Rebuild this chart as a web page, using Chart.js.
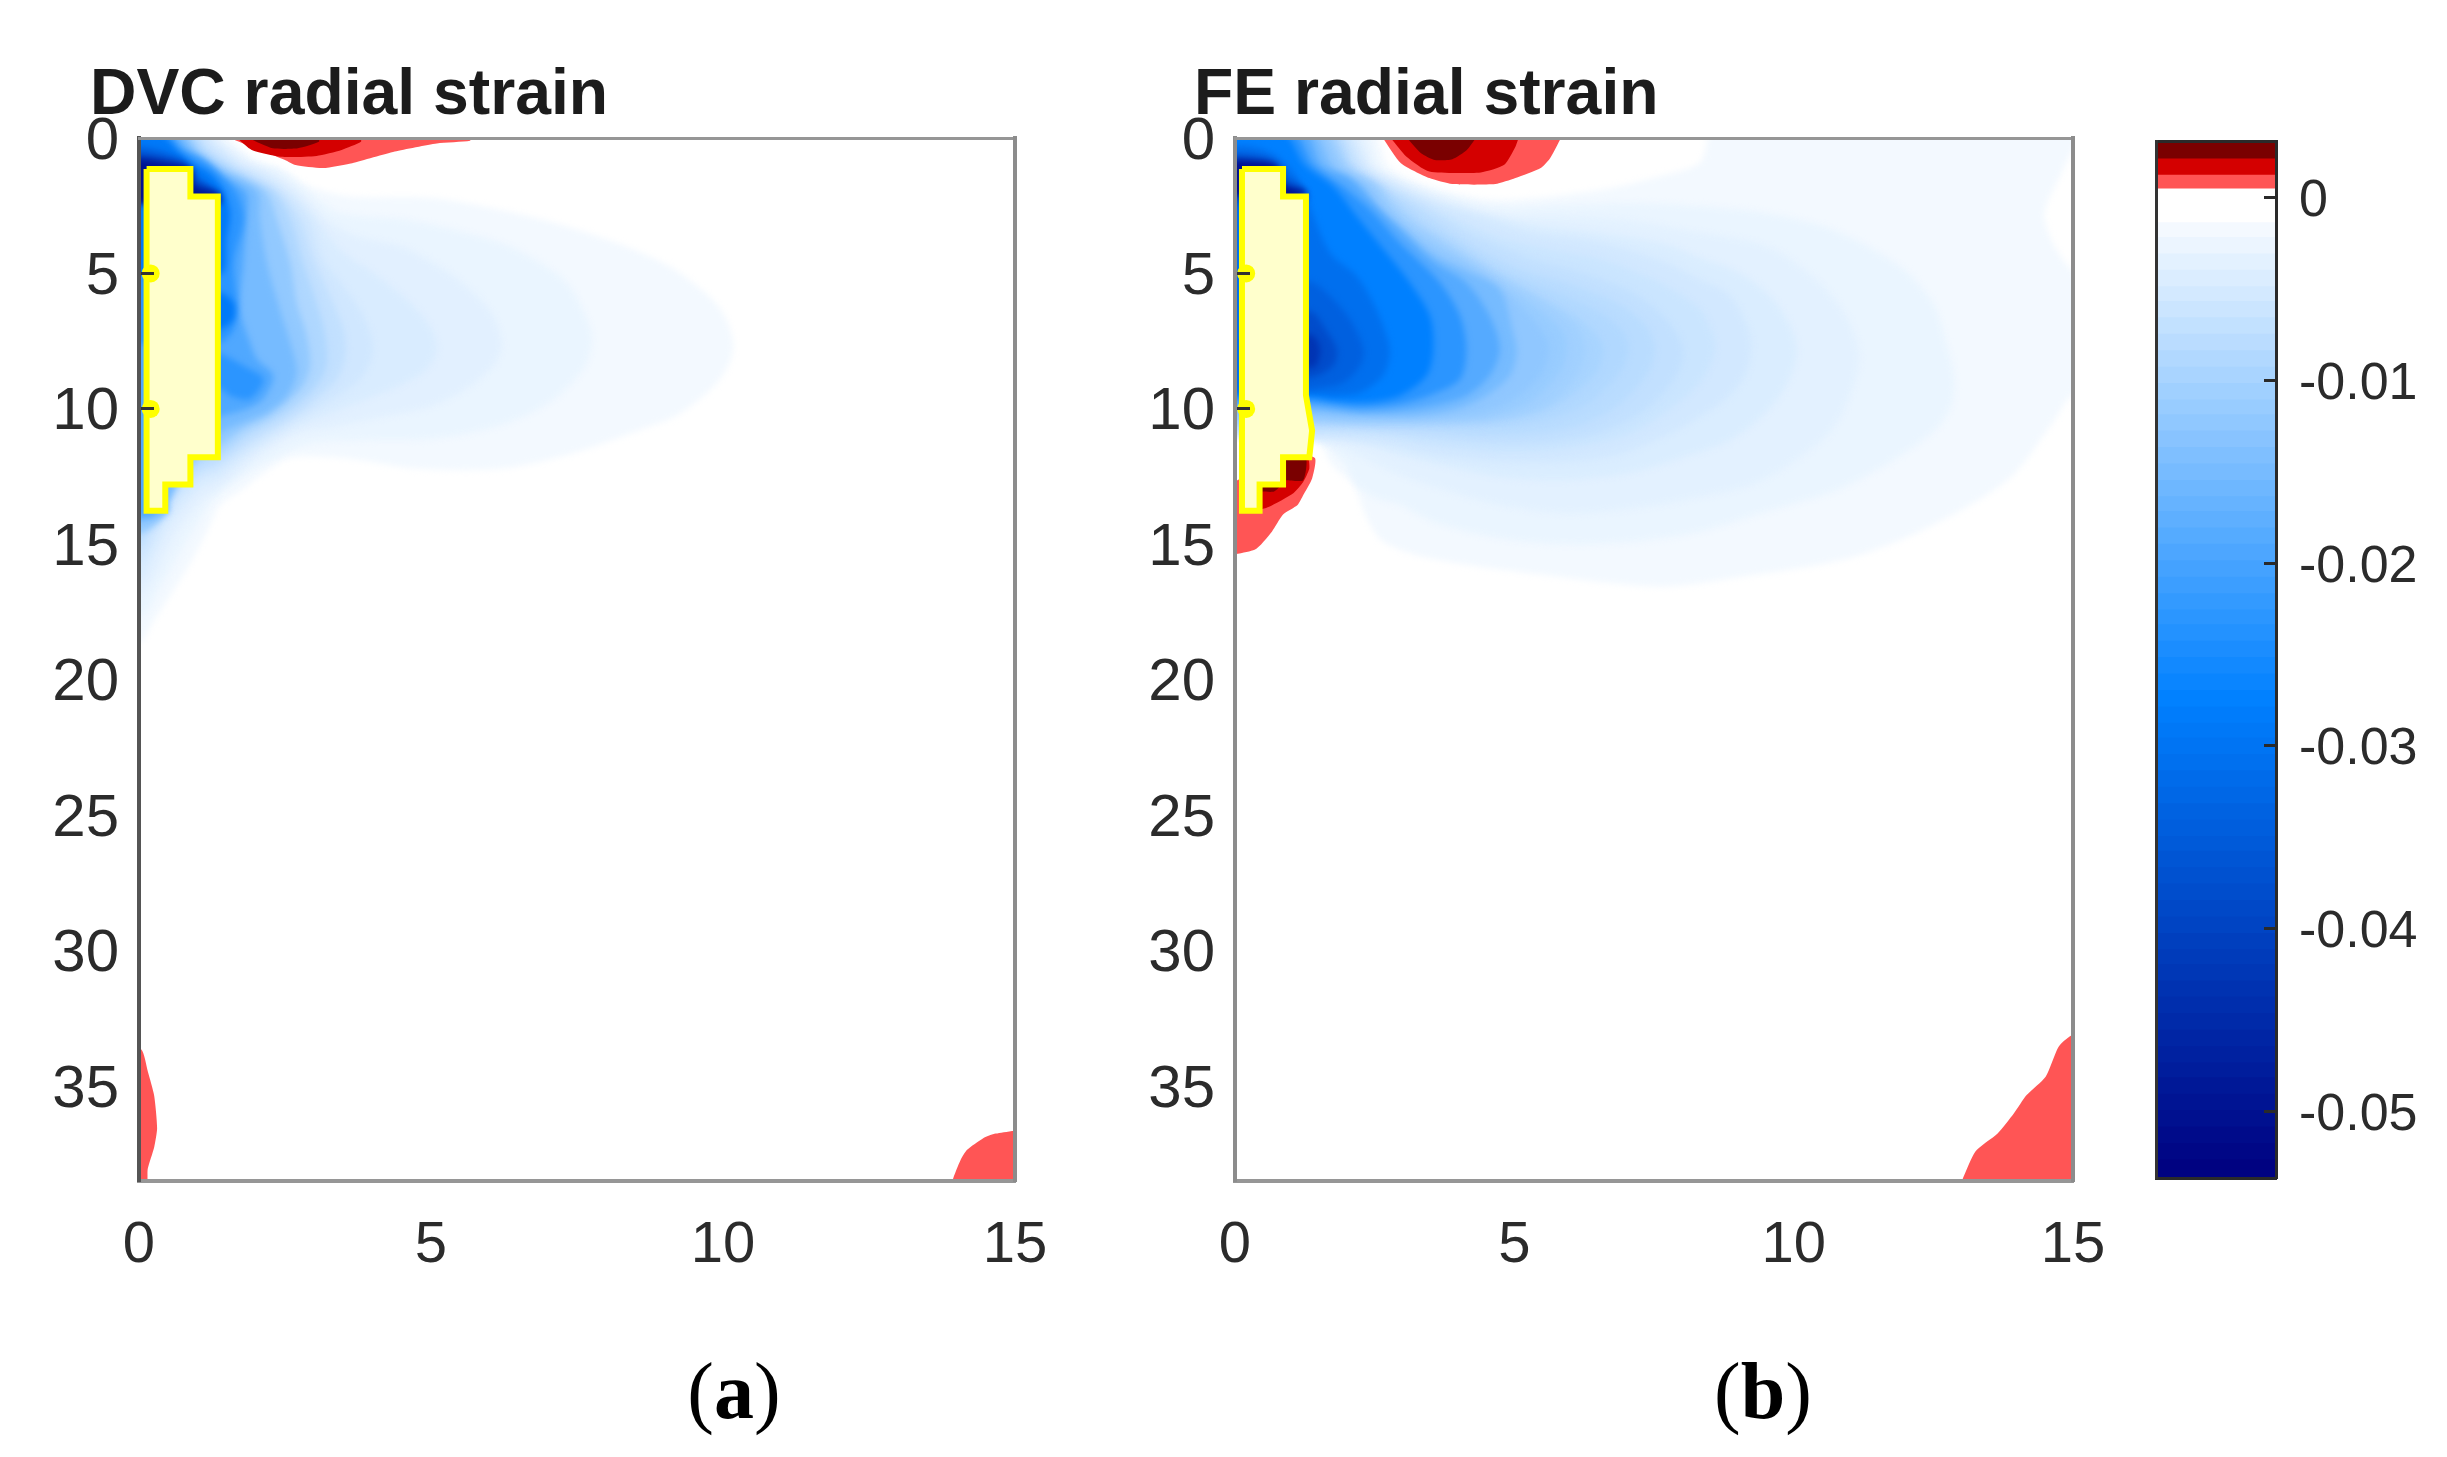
<!DOCTYPE html>
<html>
<head>
<meta charset="utf-8">
<title>radial strain</title>
<script src="https://cdn.jsdelivr.net/npm/chart.js@4"></script>
<style>
  body { margin: 0; background: #fff; width: 2447px; height: 1457px; position: relative; overflow: hidden; }
  canvas { position: absolute; }
  .caption { position: absolute; font-family: "Liberation Serif", serif; font-size: 80px; color: #000; line-height: 90px; transform: translateX(-50%); }
</style>
</head>
<body>
<canvas id="dvc" width="1060" height="1300" style="left:0;top:0"></canvas>
<canvas id="fe" width="1010" height="1300" style="left:1100px;top:0"></canvas>
<canvas id="bar" width="327" height="1300" style="left:2120px;top:0"></canvas>
<div class="caption" style="left:734px;top:1346px">(<b>a</b>)</div>
<div class="caption" style="left:1763px;top:1346px">(<b>b</b>)</div>
<script>
// tick labels
const xTicks = [0, 5, 10, 15];
const yTicks = [0, 5, 10, 15, 20, 25, 30, 35];
const cbTicks = [0, -0.01, -0.02, -0.03, -0.04, -0.05];
const cbTickLabels = ['0', '-0.01', '-0.02', '-0.03', '-0.04', '-0.05'];

// colorbar band edges, top to bottom
const cbEdges = [0.0031, 0.0022, 0.0013, 0.00055, -0.0013, -0.0021, -0.0030, -0.0039, -0.0048, -0.0056, -0.0065, -0.0074,
  -0.0083, -0.0092, -0.0101, -0.0110, -0.0118, -0.0127, -0.0136, -0.0145, -0.0154, -0.0163, -0.0171, -0.0180, -0.0189,
  -0.0198, -0.0207, -0.0216, -0.0225, -0.0233, -0.0242, -0.0251, -0.0260, -0.0269, -0.0278, -0.0287, -0.0295, -0.0304,
  -0.0313, -0.0322, -0.0331, -0.0340, -0.0349, -0.0357, -0.0366, -0.0375, -0.0384, -0.0393, -0.0402, -0.0411, -0.0419,
  -0.0428, -0.0437, -0.0446, -0.0455, -0.0464, -0.0473, -0.0481, -0.0490, -0.0499, -0.0508, -0.0517, -0.0526, -0.0537];

// DVC strain contours, [x, y] outline for each level
const dvcLevels = [-0.0018, -0.0027, -0.0036, -0.0045, -0.0055, -0.007, -0.009, -0.012, -0.015, -0.019, -0.023, -0.023, -0.029, -0.029, -0.034, -0.042, -0.05];
const dvc01 = [[-.5,-.5],[1.35,-.2],[1.56,.07],[2,.81],[2.47,1.18],[2.93,1.79],[3.61,2.16],[5.04,2.22],[6.18,2.65],[7.32,3.26],[8.47,4.12],[9.26,4.98],[9.95,6.3],[10.18,7.67],[9.95,8.9],[9.26,10.18],[8.47,10.86],[7.32,11.71],[6.18,12.21],[4.76,12.21],[3.61,11.84],[2.64,11.78],[2.24,12.21],[1.79,12.94],[1.39,13.55],[1.19,14.41],[.85,15.8],[.5,17],[.2,18],[.03,18.6],[-.5,18.8]];
const dvc02 = [[-.5,-.5],[1.25,-.2],[1.45,.1],[1.9,.81],[2.41,1.18],[2.93,2.03],[3.44,2.77],[4.58,3.01],[5.61,3.5],[6.47,4.12],[7.32,5.34],[7.72,6.94],[7.75,7.67],[7.61,8.53],[7.04,9.75],[6.18,10.61],[5.04,11.1],[3.9,11.16],[2.93,11.29],[2.3,11.84],[1.79,12.45],[1.33,13.19],[1.05,14.04],[.7,15.3],[.35,16.6],[.05,17.6],[-.5,17.8]];
const dvc03 = [[-.5,-.5],[1.15,-.2],[1.4,.2],[1.85,.9],[2.3,1.3],[2.76,2.03],[3.21,3.01],[3.73,3.63],[4.47,3.99],[5.04,4.61],[5.61,5.47],[6.07,6.57],[6.21,7.67],[6.07,8.41],[5.61,9.26],[5.04,9.88],[4.18,10.3],[3.33,10.67],[2.64,10.98],[2.07,11.71],[1.45,12.82],[1.05,13.43],[.6,14.7],[.3,16],[.05,16.8],[-.5,17]];
const dvc04 = [[-.5,-.5],[1.08,-.2],[1.33,.25],[1.75,.95],[2.2,1.35],[2.64,2.03],[3.04,3.01],[3.44,4.12],[4.01,4.98],[4.58,5.95],[4.98,6.94],[5.1,7.79],[4.93,8.53],[4.47,9.14],[3.9,9.63],[3.33,10.12],[2.64,10.73],[1.96,11.59],[1.39,12.57],[1.05,12.94],[.55,14.2],[.25,15.4],[.05,16.2],[-.5,16.4]];
const dvc05 = [[-.5,-.5],[1,-.2],[1.3,.3],[1.7,1],[2.1,1.4],[2.53,2.03],[2.93,3.01],[3.16,4.48],[3.5,5.47],[3.84,6.57],[4.01,7.79],[3.84,8.77],[3.5,9.39],[3.04,10],[2.53,10.61],[1.9,11.47],[1.33,12.33],[1.05,12.57],[.5,13.9],[.22,15],[.05,15.6],[-.5,15.8]];
const dvc06 = [[-.5,-.5],[.92,-.2],[1.2,.4],[1.62,1.05],[2,1.45],[2.41,2.03],[2.76,3.01],[2.99,4.48],[3.27,5.83],[3.5,7.06],[3.53,8.04],[3.39,8.9],[3.04,9.63],[2.64,10.3],[1.9,11.23],[1.33,12.08],[1.05,12.33],[.48,13.5],[.2,14.5],[.05,15.1],[-.5,15.2]];
const dvc07 = [[-.5,-.5],[.85,-.2],[1.15,.5],[1.56,1.1],[1.9,1.5],[2.33,2.03],[2.59,3.01],[2.81,4.61],[3.04,6.08],[3.19,7.3],[3.21,8.41],[3.04,9.14],[2.76,9.75],[2.41,10.3],[1.84,10.98],[1.39,11.71],[1.05,12],[.48,13.2],[.15,14.1],[.05,14.6],[-.5,14.7]];
const dvc08 = [[-.5,-.5],[.75,-.2],[1.05,.55],[1.5,1.2],[1.85,1.55],[2.19,2.03],[2.36,3.01],[2.59,4.61],[2.7,6.08],[2.87,7.3],[2.93,8.41],[2.81,9.14],[2.53,9.75],[2.19,10.3],[1.79,10.73],[1.39,11.35],[1.05,11.7],[.48,13],[.48,13.8],[.12,14.5],[-.5,14.6]];
const dvc09 = [[-.5,-.5],[.66,-.2],[.98,.6],[1.42,1.25],[1.75,1.6],[2.04,2.03],[2.07,3.01],[2.19,4.61],[2.41,6.32],[2.59,7.55],[2.7,8.65],[2.53,9.51],[2.19,10.12],[1.79,10.49],[1.39,10.86],[1,11.5],[.5,13.5],[.5,13.8],[.1,14.1],[-.5,14.2]];
const dvc10 = [[-.5,-.5],[.55,-.2],[.82,.45],[1.13,.81],[1.44,1.42],[1.84,2.03],[1.84,3.01],[1.79,4.61],[1.73,6.32],[1.9,7.55],[2.02,8.16],[2.3,8.77],[2.13,9.63],[1.84,10],[1.45,10.24],[.5,11],[.3,13.8],[.1,14],[-.5,14]];
const dvc11 = [[-.5,-.5],[.45,-.2],[.7,.4],[1,.75],[1.35,1.3],[1.67,2.03],[1.79,3.01],[1.62,4.61],[1.67,6.08],[1.62,7.06],[1.39,7.55],[.5,7.6],[-.5,7.6]];
const dvc12 = [[1.39,7.95],[1.79,8.41],[2.13,8.9],[1.9,9.63],[1.56,9.51],[1.39,9.26],[1,9.2],[1,8]];
const dvc13 = [[-.5,-.5],[.35,-.2],[.7,.56],[.93,.93],[1.22,1.3],[1.44,1.91],[1.56,2.77],[1.5,3.75],[1.42,5],[.5,5],[-.5,5]];
const dvc14 = [[1,5.7],[1.39,5.7],[1.62,6.08],[1.62,6.69],[1.39,7.06],[1,7.1]];
const dvc15 = [[-.5,.3],[.05,.32],[.42,.5],[.76,.81],[.93,1.24],[1.16,1.67],[1.36,2.04],[1.4,2.4],[.5,2.5],[-.5,2.2]];
const dvc16 = [[-.5,.6],[.05,.63],[.42,.75],[.8,1],[.93,1.54],[1.22,1.85],[1.36,2.04],[1.36,2.4],[.5,2.5],[-.5,2.2]];
const dvc17 = [[-.5,.78],[.05,.81],[.42,.93],[.9,1.15],[.93,1.79],[1.22,2],[1.36,2.1],[1.36,2.4],[.5,2.5],[-.5,2.2]];

// FE strain contours, near the block the deep levels split into corner and blob
const feLevels = [-0.0018, -0.0027, -0.0035, -0.0044, -0.0053, -0.0061, -0.007, -0.0079, -0.0088, -0.0097, -0.0105, -0.0114, -0.0123, -0.015, -0.0185, -0.023, -0.0275, -0.031, -0.036, -0.034, -0.05, -0.038, -0.043];
const fe01 = [[-.5,-.5],[2.45,-.2],[2.76,1.05],[3.48,1.79],[4.71,2.28],[6.56,1.91],[7.59,1.42],[8.31,.93],[8.46,.07],[8.5,-.5],[15.5,-.5],[15.2,-.2],[15.03,.3],[14.82,1.18],[14.49,2.77],[14.64,3.87],[14.97,4.85],[15.5,5.5],[15.5,9],[14.97,9.51],[14.64,10.49],[13.86,12.57],[12.49,14.29],[11,15.5],[8.9,16.25],[7.59,16.56],[5.53,16.13],[3.48,15.51],[2.65,14.9],[2.36,14.04],[2.12,12.82],[1.74,12.08],[1.43,11.1],[.5,11],[-.5,11]];
const fe02 = [[-.5,-.5],[2.3,-.2],[2.6,1.1],[3.07,1.6],[3.85,2.16],[4.74,2.52],[5.93,2.46],[7.13,2.4],[8.32,2.52],[9.51,2.77],[10.7,3.38],[11.9,4.73],[12.49,6.08],[12.73,7.55],[12.88,8.9],[12.82,9.88],[12.49,10.86],[11.54,12.2],[10.7,13.06],[9.51,13.8],[8.32,14.54],[7.13,14.9],[5.93,15],[4.74,14.78],[3.55,14.17],[2.95,13.55],[2.53,13.3],[2.18,12.82],[1.94,11.96],[1.5,11.2],[.5,11],[-.5,11]];
const fe03 = [[-.5,-.5],[2.17,-.2],[2.5,1.1],[3,1.67],[3.67,2.2],[4.74,2.83],[5.93,2.89],[7.13,3.07],[8.32,3.5],[9.51,3.99],[10.4,5.22],[10.94,6.57],[11.17,7.92],[11.09,9.02],[10.7,10.73],[9.99,11.96],[9.21,12.82],[8.32,13.25],[7.13,13.68],[5.93,13.86],[4.74,13.55],[3.85,13.06],[2.95,12.45],[2.18,11.71],[1.76,11.35],[1.45,11.2],[.5,11],[-.5,11]];
const fe04 = [[-.5,-.5],[2.06,-.2],[2.42,1.1],[2.95,1.73],[3.55,2.28],[4.26,2.71],[5.34,3.2],[6.53,3.5],[7.72,3.93],[8.32,4.42],[9.03,4.98],[9.63,5.95],[9.99,7.18],[10.05,8.04],[9.87,9.14],[9.51,10.12],[8.91,11.1],[8.32,11.59],[7.13,12.33],[5.93,12.63],[4.74,12.51],[3.85,12.15],[2.95,11.71],[2.36,11.35],[1.94,11.2],[1.45,11.1],[.5,11],[-.5,11]];
const fe05 = [[-.5,-.5],[1.96,-.2],[2.35,1.1],[2.89,1.79],[3.43,2.28],[4.14,2.77],[5.34,3.5],[6.53,3.87],[7.72,4.61],[8.32,5.22],[8.8,5.71],[9.09,6.57],[9.24,7.55],[9.15,8.65],[8.85,9.51],[8.32,10.3],[7.72,10.98],[6.83,11.71],[5.93,11.96],[4.74,11.96],[3.55,11.71],[2.65,11.3],[1.4,11],[.5,10.9],[-.5,10.9]];
const fe06 = [[-.5,-.5],[1.88,-.2],[2.28,1.1],[2.77,1.79],[3.25,2.28],[3.85,2.89],[4.68,3.63],[5.64,4.12],[6.53,4.48],[7.6,5.34],[8.32,6.32],[8.56,7.3],[8.59,7.79],[8.5,8.4],[8.32,9.02],[8.02,9.63],[7.13,10.86],[5.93,11.47],[4.74,11.59],[3.55,11.35],[2.65,11.04],[1.4,10.9],[.5,10.9],[-.5,10.9]];
const fe07 = [[-.5,-.5],[1.82,-.2],[2.2,1.1],[2.68,1.79],[3.13,2.28],[3.67,2.89],[4.32,3.63],[5.34,4.48],[6.23,4.98],[7.13,5.71],[7.72,6.69],[8.02,7.79],[7.9,8.77],[7.36,10],[6.53,10.86],[5.64,11.23],[4.74,11.29],[3.55,11.1],[2.53,10.86],[1.4,10.8],[.5,10.8],[-.5,10.8]];
const fe08 = [[-.5,-.5],[1.76,-.2],[2.13,1.1],[2.62,1.79],[3.01,2.28],[3.55,3.01],[3.97,3.63],[4.98,4.73],[5.93,5.34],[6.83,6.08],[7.36,6.94],[7.51,7.79],[7.36,8.77],[6.77,10],[5.93,10.73],[4.74,10.98],[3.55,10.86],[2.65,10.73],[1.4,10.67],[.5,10.7],[-.5,10.7]];
const fe09 = [[-.5,-.5],[1.7,-.2],[2.08,1.1],[2.58,1.79],[2.95,2.4],[3.43,3.2],[3.79,3.63],[4.74,4.85],[5.64,5.59],[6.53,6.45],[6.95,7.18],[7.04,7.79],[6.89,8.65],[6.35,9.75],[5.64,10.37],[4.74,10.67],[3.55,10.67],[2.65,10.64],[1.4,10.55],[.5,10.6],[-.5,10.6]];
const fe10 = [[-.5,-.5],[1.65,-.2],[2.04,1.1],[2.55,1.79],[2.89,2.46],[3.31,3.26],[3.67,3.69],[4.56,4.85],[5.34,5.77],[6.17,6.69],[6.53,7.43],[6.59,7.85],[6.47,8.65],[5.93,9.63],[5.34,10.18],[4.62,10.43],[3.55,10.55],[2.65,10.55],[1.4,10.49],[.5,10.5],[-.5,10.5]];
const fe11 = [[-.5,-.5],[1.6,-.2],[2,1.1],[2.52,1.79],[2.83,2.52],[3.19,3.14],[3.55,3.63],[4.14,4.4],[4.74,5.1],[5.58,6.08],[6.11,6.94],[6.26,7.79],[6.11,8.77],[5.58,9.88],[4.74,10.37],[3.85,10.49],[2.95,10.49],[2.24,10.49],[1.4,10.43],[.5,10.45],[-.5,10.45]];
const fe12 = [[-.5,-.5],[1.55,-.2],[1.95,1.1],[2.49,1.79],[2.77,2.52],[3.13,3.26],[3.55,3.8],[4.14,4.55],[4.74,5.34],[5.46,6.32],[5.87,7.18],[5.93,7.85],[5.81,8.65],[5.28,9.75],[4.62,10.24],[3.85,10.39],[2.95,10.43],[2.12,10.43],[1.4,10.37],[.5,10.4],[-.5,10.4]];
const fe13 = [[-.5,-.5],[1.5,-.2],[1.9,1.1],[2.43,1.79],[2.71,2.52],[3.07,3.32],[3.55,3.99],[4.14,4.67],[4.74,5.5],[5.28,6.57],[5.58,7.43],[5.61,7.92],[5.46,8.77],[4.98,9.63],[4.38,10.12],[3.67,10.3],[2.95,10.37],[2.06,10.37],[1.4,10.3],[.5,10.3],[-.5,10.3]];
const fe14 = [[-.5,-.5],[1.38,-.2],[1.76,1.1],[2.3,1.79],[2.59,2.65],[2.95,3.26],[3.55,4.3],[4.14,4.9],[4.74,5.59],[4.98,7.18],[5.04,7.92],[4.92,8.77],[4.5,9.51],[3.97,10],[3.25,10.24],[2.48,10.24],[1.4,10.12],[.5,10.1],[-.5,10.1]];
const fe15 = [[-.5,-.5],[1.25,-.2],[1.55,1],[2.06,1.5],[2.42,2.28],[2.95,3.38],[3.55,4.55],[4.14,5.34],[4.56,6.57],[4.74,7.79],[4.56,8.77],[4.14,9.51],[3.55,9.88],[2.95,10.06],[2.24,10.12],[1.4,9.94],[.5,9.9],[-.5,9.9]];
const fe16 = [[-.5,-.5],[1.05,-.2],[1.4,1],[1.94,1.8],[2.42,2.65],[2.95,3.87],[3.67,5.34],[4.03,6.57],[4.14,7.79],[4.03,8.9],[3.55,9.45],[2.95,9.82],[2.24,9.94],[1.4,9.75],[.5,9.7],[-.5,9.7]];
const fe17 = [[-.5,-.5],[.86,-.2],[1.25,1],[1.76,1.79],[2.18,2.89],[2.71,4.24],[3.13,5.34],[3.49,6.57],[3.55,7.79],[3.43,8.77],[2.95,9.51],[2.36,9.75],[1.76,9.69],[1.4,9.57],[.5,9.5],[-.5,9.5]];
const fe18 = [[-.5,.25],[.3,.3],[.7,.6],[.98,1.1],[1.15,1.6],[1.3,2.3],[1.7,4.24],[2.18,5.1],[2.53,6.32],[2.77,7.79],[2.65,8.77],[2.24,9.39],[1.76,9.51],[1.4,9.45],[.5,9.4],[-.5,9.4]];
const fe19 = [[-.5,.55],[.3,.6],[.7,.85],[.92,1.4],[1.2,1.8],[1.3,2.3],[.5,2.5],[-.5,2.4]];
const fe20 = [[1,5.2],[1.4,5.35],[1.7,5.83],[2.06,6.7],[2.3,7.79],[2.24,8.4],[1.94,9.02],[1.4,9.27],[1,9.3]];
const fe21 = [[-.5,.78],[.3,.82],[.75,1],[.88,1.7],[1.28,2],[.9,2.3],[-.5,2]];
const fe22 = [[1,6.3],[1.4,6.45],[1.58,6.94],[1.82,7.79],[1.76,8.4],[1.4,8.83],[1,8.85]];
const fe23 = [[1,7.2],[1.4,7.3],[1.52,7.79],[1.48,8.28],[1.4,8.47],[1,8.45]];

// positive strain patches: light, mid, dark
const dvcPosLight = [[[1.53,-.02],[2.5,.81],[2.68,1],[3.15,1.11],[3.65,.93],[4.38,.5],[5.1,.2],[5.67,.1],[5.67,-.02]],
  [[-.3,33.65],[.04,33.65],[.15,34.45],[.26,35.35],[.31,36.55],[.26,37.25],[.15,38.05],[.12,38.8],[-.3,38.8]],
  [[13.93,38.8],[13.93,38.49],[14.07,37.72],[14.18,37.35],[14.45,36.93],[14.67,36.75],[15.3,36.68],[15.3,38.8]]];
const dvcPosMid = [[[1.67,-.02],[1.93,.44],[2.43,.69],[3.04,.66],[3.47,.44],[3.8,.14],[3.8,-.02]]];
const dvcPosDark = [[[1.85,-.02],[2.29,.38],[2.72,.38],[3.08,.14],[3.08,-.02]]];
const fePosLight = [[[2.64,-.02],[2.97,.93],[3.48,1.48],[3.89,1.7],[4.66,1.7],[5.02,1.48],[5.48,1.1],[5.64,.75],[5.84,-.02]],
  [[1,11.6],[1.43,11.81],[1.38,12.57],[1.22,13.19],[1.12,13.55],[.86,13.9],[.66,14.53],[.35,15.2],[-.3,15.33],[-.3,13]],
  [[12.95,38.8],[13.25,37.42],[13.65,36.75],[13.94,36.01],[14.17,35.33],[14.51,34.65],[14.74,33.55],[14.97,33.13],[15.3,33.05],[15.3,38.8]]];
const fePosMid = [[[2.78,-.02],[3.07,.69],[3.48,1.24],[4.4,1.27],[4.82,.99],[5.02,.32],[5.08,-.02]],
  [[.9,11.8],[1.3,11.8],[1.33,12.2],[1.22,12.7],[1.05,13.1],[.6,13.62],[.4,13.7],[.4,12.8],[.9,12.8]]];
const fePosDark = [[[3.07,-.02],[3.33,.56],[3.58,.81],[3.89,.78],[4.15,.44],[4.32,-.02]],
  [[.91,11.84],[1.27,11.84],[1.22,12.63],[.91,12.63]],
  [[.48,12.8],[.82,12.8],[.7,13.05],[.48,13.05]]];

// excluded block outlines
const dvcBox = [[.13,1.14],[.88,1.14],[.88,2.16],[1.35,2.16],[1.35,11.78],[.88,11.78],[.88,12.79],[.45,12.79],[.45,13.76],[.13,13.76],[.13,1.14]];
const feBox = [[.125,1.14],[.86,1.14],[.86,2.16],[1.27,2.16],[1.27,9.5],[1.38,10.8],[1.33,11.78],[.86,11.78],[.86,12.79],[.44,12.79],[.44,13.76],[.125,13.76],[.125,1.14]];
const boxBumps = [[.2,5],[.2,10]];

const dvcShapes = [dvc01, dvc02, dvc03, dvc04, dvc05, dvc06, dvc07, dvc08, dvc09, dvc10, dvc11, dvc12, dvc13, dvc14, dvc15, dvc16, dvc17];
const feShapes = [fe01, fe02, fe03, fe04, fe05, fe06, fe07, fe08, fe09, fe10, fe11, fe12, fe13, fe14, fe15, fe16, fe17, fe18, fe19, fe20, fe21, fe22, fe23];

const TEXT = '#2b2b2b';
const SANS = '"Liberation Sans", Arial, sans-serif';
const Y_MAX = 38.5;

// blue side of the colormap
function colorFor(v) {
  const mix = (a, b, t) => Math.round(a + (b - a) * t);
  let c;
  if (v > -0.0275) {
    const t = Math.max(0, (-0.0005 - v) / 0.027);
    c = [mix(255, 0, t), mix(255, 128, t), 255];
  } else {
    const t = Math.min(1, (-0.0275 - v) / 0.026);
    c = [0, mix(128, 0, t), mix(255, 127, t)];
  }
  return `rgb(${c[0]},${c[1]},${c[2]})`;
}

function shapeSet(data, color, soft) {
  return { data: data, showLine: true, fill: 'shape', backgroundColor: color, borderWidth: 0, pointRadius: 0, tension: soft ? 0.3 : 0.2, soft: soft };
}

// chart draws dataset 0 on top, so build bottom-up and flip
function plotDatasets(shapes, levels, light, mid, dark, box) {
  const sets = shapes.map((s, i) => shapeSet(s, colorFor(levels[i]), true));
  light.forEach(s => sets.push(shapeSet(s, '#ff5555', false)));
  mid.forEach(s => sets.push(shapeSet(s, '#d40000', false)));
  dark.forEach(s => sets.push(shapeSet(s, '#7a0000', false)));
  sets.push({ data: box, showLine: true, fill: 'shape', backgroundColor: '#ffffcc', borderColor: '#ffff00', borderWidth: 6, borderJoinStyle: 'miter', pointRadius: 0, tension: 0.001 });
  sets.push({ data: boxBumps, showLine: false, pointRadius: 9, pointBackgroundColor: '#ffff00', pointBorderWidth: 0 });
  return sets.reverse();
}

// blur only the blue contours
const softBlue = {
  id: 'softBlue',
  beforeDatasetsDraw(chart) { chart.ctx.filter = 'blur(3px)'; },
  afterDatasetDraw(chart, args) {
    const next = chart.data.datasets[args.index - 1];
    if (!next || !next.soft) chart.ctx.filter = 'none';
  },
  afterDatasetsDraw(chart) { chart.ctx.filter = 'none'; }
};

// y labels sit a bit below their tick in the reference
function labelDrop(dy) {
  return {
    id: 'labelDrop',
    beforeDraw(chart) {
      const items = chart.scales.y.getLabelItems(chart.chartArea);
      items.forEach(it => {
        if (!it.dropped) { it.options.translation[1] += dy; it.dropped = true; }
      });
    }
  };
}

// title starts right of the y labels
function titleAt(x) {
  return { id: 'titleAt', afterLayout(chart) { chart.titleBlock.left = x; } };
}

function hiddenAxis(position, size, color, width, extra) {
  return Object.assign({
    position: position, display: true,
    ticks: { display: false },
    grid: { display: false, drawTicks: false },
    border: { display: true, color: color, width: width, z: 1 },
    afterFit(s) {
      if (position === 'top' || position === 'bottom') { s.height = size; s.paddingLeft = 0; s.paddingRight = 0; } else { s.width = size; s.paddingTop = 0; s.paddingBottom = 0; }
    }
  }, extra);
}

function makePlot(id, title, sets, titleX, padLeft, padRight, yWidth, leftColor) {
  new Chart(document.getElementById(id), {
    type: 'scatter',
    data: { datasets: sets },
    plugins: [softBlue, labelDrop(4), titleAt(titleX)],
    options: {
      responsive: false,
      animation: false,
      layout: { padding: { left: padLeft, right: padRight, top: 0, bottom: 0 } },
      plugins: {
        legend: { display: false },
        tooltip: { enabled: false },
        title: {
          display: true, text: title, align: 'start', color: '#1c1c1c',
          font: { family: SANS, size: 64.3, weight: 'bold', lineHeight: 1 },
          padding: { top: 64, bottom: 9.7 }
        }
      },
      scales: {
        x: {
          type: 'linear', position: 'bottom', min: 0, max: 15,
          ticks: { stepSize: 5, color: TEXT, font: { family: SANS, size: 58 }, padding: 30, maxRotation: 0, autoSkip: false, includeBounds: false },
          grid: { drawOnChartArea: false, drawTicks: false },
          border: { color: '#969696', width: 4, z: 1 },
          afterBuildTicks(s) { s.ticks = xTicks.map(v => ({ value: v })); },
          afterFit(s) { s.height = 119; s.paddingLeft = 0; s.paddingRight = 0; }
        },
        y: {
          type: 'linear', position: 'left', reverse: true, min: 0, max: Y_MAX,
          ticks: { stepSize: 5, color: TEXT, font: { family: SANS, size: 60 }, padding: 35, autoSkip: false, includeBounds: false },
          grid: {
            drawOnChartArea: false, tickLength: -15, tickWidth: 3, z: 1,
            tickColor: c => (c.tick && (c.tick.value === 5 || c.tick.value === 10)) ? '#333333' : 'rgba(0,0,0,0)'
          },
          border: { color: leftColor, width: 4, z: 1 },
          afterBuildTicks(s) { s.ticks = yTicks.map(v => ({ value: v })); },
          afterFit(s) { s.width = yWidth; s.paddingTop = 0; s.paddingBottom = 0; }
        },
        xTop: hiddenAxis('top', 0, '#969696', 3, { type: 'linear', min: 0, max: 15 }),
        yRight: hiddenAxis('right', 0, '#8c8c8c', 4, { type: 'linear', min: 0, max: Y_MAX })
      }
    }
  });
}

makePlot('dvc', 'DVC radial strain', plotDatasets(dvcShapes, dvcLevels, dvcPosLight, dvcPosMid, dvcPosDark, dvcBox), 90, 40, 45, 99, '#555555');
makePlot('fe', 'FE radial strain', plotDatasets(feShapes, feLevels, fePosLight, fePosMid, fePosDark, feBox), 94, 30, 37, 105, '#8c8c8c');

// colorbar, one floating bar per band
const cbTop = ['#7a0000', '#d40000', '#ff5555', '#ffffff'];
const cbSets = [];
for (let i = 0; i < cbEdges.length - 1; i++) {
  const mid = (cbEdges[i] + cbEdges[i + 1]) / 2;
  cbSets.push({
    data: [[cbEdges[i + 1], cbEdges[i]]],
    backgroundColor: i < cbTop.length ? cbTop[i] : colorFor(mid),
    borderWidth: 0, barPercentage: 1, categoryPercentage: 1, grouped: false, inflateAmount: 0.6
  });
}

new Chart(document.getElementById('bar'), {
  type: 'bar',
  data: { labels: [''], datasets: cbSets },
  plugins: [labelDrop(4)],
  options: {
    responsive: false,
    animation: false,
    layout: { padding: { left: 36, right: 0, top: 141, bottom: 122 } },
    plugins: { legend: { display: false }, tooltip: { enabled: false }, title: { display: false } },
    scales: {
      x: hiddenAxis('bottom', 0, '#2a2a2a', 3, { type: 'category' }),
      xTop: hiddenAxis('top', 0, '#2a2a2a', 3, { type: 'category' }),
      yLeft: hiddenAxis('left', 0, '#333333', 3, { type: 'linear', min: -0.05365, max: 0.00312 }),
      y: {
        type: 'linear', position: 'right', min: -0.05365, max: 0.00312,
        ticks: {
          color: TEXT, font: { family: SANS, size: 52 }, padding: 35, autoSkip: false,
          callback: (v, i) => cbTickLabels[i]
        },
        grid: { drawOnChartArea: false, tickLength: -12, tickWidth: 3, tickColor: '#2a2a2a', z: 1 },
        border: { color: '#2a2a2a', width: 3, z: 1 },
        afterBuildTicks(s) { s.ticks = cbTicks.map(v => ({ value: v })); },
        afterFit(s) { s.width = 171; s.paddingTop = 0; s.paddingBottom = 0; }
      }
    }
  }
});
</script>
</body>
</html>
